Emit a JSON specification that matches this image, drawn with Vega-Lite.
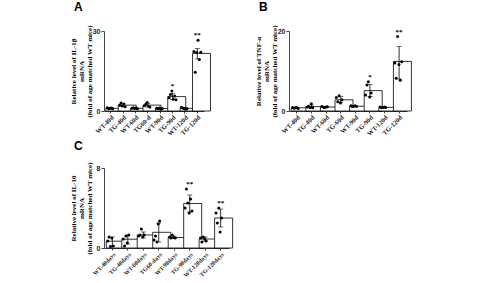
{
  "$schema": "https://vega.github.io/schema/vega-lite/v6.json",
  "background": "white",
  "padding": {"left": 68, "top": 0, "right": 5, "bottom": 0},
  "datasets": {
    "A_bars": [
      {"group": "WT-40d", "mean": 1.0, "lo": 0.85, "hi": 1.15, "star": ""},
      {"group": "TG-40d", "mean": 2.2, "lo": 1.6, "hi": 2.8, "star": ""},
      {"group": "WT-60d", "mean": 1.0, "lo": 0.85, "hi": 1.15, "star": ""},
      {"group": "TG60-d", "mean": 2.2, "lo": 1.5, "hi": 2.9, "star": ""},
      {"group": "WT-90d", "mean": 0.9, "lo": 0.75, "hi": 1.05, "star": ""},
      {"group": "TG-90d", "mean": 5.4, "lo": 4.3, "hi": 6.6, "star": "*"},
      {"group": "WT-120d", "mean": 1.0, "lo": 0.75, "hi": 1.25, "star": ""},
      {"group": "TG-120d", "mean": 21.6, "lo": 19.5, "hi": 23.4, "star": "**"}
    ],
    "A_pts": [
      {"group": "WT-40d", "rep": 1, "value": 1.2}, {"group": "WT-40d", "rep": 2, "value": 0.9}, {"group": "WT-40d", "rep": 3, "value": 1.0}, {"group": "WT-40d", "rep": 4, "value": 1.1}, {"group": "WT-40d", "rep": 5, "value": 0.8},
      {"group": "TG-40d", "rep": 1, "value": 2.2}, {"group": "TG-40d", "rep": 2, "value": 3.0}, {"group": "TG-40d", "rep": 3, "value": 1.9}, {"group": "TG-40d", "rep": 4, "value": 2.6}, {"group": "TG-40d", "rep": 5, "value": 1.6},
      {"group": "WT-60d", "rep": 1, "value": 1.0}, {"group": "WT-60d", "rep": 2, "value": 1.2}, {"group": "WT-60d", "rep": 3, "value": 0.9}, {"group": "WT-60d", "rep": 4, "value": 1.1}, {"group": "WT-60d", "rep": 5, "value": 0.8},
      {"group": "TG60-d", "rep": 1, "value": 2.0}, {"group": "TG60-d", "rep": 2, "value": 2.5}, {"group": "TG60-d", "rep": 3, "value": 3.2}, {"group": "TG60-d", "rep": 4, "value": 1.8}, {"group": "TG60-d", "rep": 5, "value": 1.5},
      {"group": "WT-90d", "rep": 1, "value": 1.0}, {"group": "WT-90d", "rep": 2, "value": 0.8}, {"group": "WT-90d", "rep": 3, "value": 1.1}, {"group": "WT-90d", "rep": 4, "value": 0.7}, {"group": "WT-90d", "rep": 5, "value": 0.9},
      {"group": "TG-90d", "rep": 1, "value": 5.0}, {"group": "TG-90d", "rep": 2, "value": 6.2}, {"group": "TG-90d", "rep": 3, "value": 7.5}, {"group": "TG-90d", "rep": 4, "value": 4.4}, {"group": "TG-90d", "rep": 5, "value": 5.6}, {"group": "TG-90d", "rep": 6, "value": 4.2},
      {"group": "WT-120d", "rep": 1, "value": 1.4}, {"group": "WT-120d", "rep": 2, "value": 1.1}, {"group": "WT-120d", "rep": 3, "value": 0.9}, {"group": "WT-120d", "rep": 4, "value": 0.7}, {"group": "WT-120d", "rep": 5, "value": 0.8},
      {"group": "TG-120d", "rep": 1, "value": 22.3}, {"group": "TG-120d", "rep": 2, "value": 14.5}, {"group": "TG-120d", "rep": 3, "value": 21.9}, {"group": "TG-120d", "rep": 4, "value": 26.5}, {"group": "TG-120d", "rep": 5, "value": 19.3}, {"group": "TG-120d", "rep": 6, "value": 22.0}
    ],
    "B_bars": [
      {"group": "WT-40d", "mean": 0.8, "lo": 0.65, "hi": 0.95, "star": ""},
      {"group": "TG-40d", "mean": 1.1, "lo": 0.7, "hi": 1.5, "star": ""},
      {"group": "WT-60d", "mean": 1.0, "lo": 0.9, "hi": 1.1, "star": ""},
      {"group": "TG-60d", "mean": 2.8, "lo": 2.2, "hi": 3.6, "star": ""},
      {"group": "WT-90d", "mean": 1.2, "lo": 1.1, "hi": 1.3, "star": ""},
      {"group": "TG-90d", "mean": 5.1, "lo": 3.6, "hi": 6.6, "star": "*"},
      {"group": "WT-120d", "mean": 0.9, "lo": 0.8, "hi": 1.0, "star": ""},
      {"group": "TG-120d", "mean": 12.4, "lo": 8.0, "hi": 16.1, "star": "**"}
    ],
    "B_pts": [
      {"group": "WT-40d", "rep": 1, "value": 0.9}, {"group": "WT-40d", "rep": 2, "value": 0.7}, {"group": "WT-40d", "rep": 3, "value": 0.8}, {"group": "WT-40d", "rep": 4, "value": 0.9}, {"group": "WT-40d", "rep": 5, "value": 0.6},
      {"group": "TG-40d", "rep": 1, "value": 1.0}, {"group": "TG-40d", "rep": 2, "value": 1.2}, {"group": "TG-40d", "rep": 3, "value": 0.9}, {"group": "TG-40d", "rep": 4, "value": 1.8}, {"group": "TG-40d", "rep": 5, "value": 0.8},
      {"group": "WT-60d", "rep": 1, "value": 1.1}, {"group": "WT-60d", "rep": 2, "value": 1.0}, {"group": "WT-60d", "rep": 3, "value": 0.9}, {"group": "WT-60d", "rep": 4, "value": 1.0}, {"group": "WT-60d", "rep": 5, "value": 1.05},
      {"group": "TG-60d", "rep": 1, "value": 3.4}, {"group": "TG-60d", "rep": 2, "value": 2.3}, {"group": "TG-60d", "rep": 3, "value": 3.8}, {"group": "TG-60d", "rep": 4, "value": 2.0}, {"group": "TG-60d", "rep": 5, "value": 2.8},
      {"group": "WT-90d", "rep": 1, "value": 1.3}, {"group": "WT-90d", "rep": 2, "value": 1.1}, {"group": "WT-90d", "rep": 3, "value": 1.2}, {"group": "WT-90d", "rep": 4, "value": 1.3}, {"group": "WT-90d", "rep": 5, "value": 1.15},
      {"group": "TG-90d", "rep": 1, "value": 4.0}, {"group": "TG-90d", "rep": 2, "value": 6.5}, {"group": "TG-90d", "rep": 3, "value": 7.3}, {"group": "TG-90d", "rep": 4, "value": 3.5}, {"group": "TG-90d", "rep": 5, "value": 4.5},
      {"group": "WT-120d", "rep": 1, "value": 1.0}, {"group": "WT-120d", "rep": 2, "value": 0.8}, {"group": "WT-120d", "rep": 3, "value": 0.9}, {"group": "WT-120d", "rep": 4, "value": 1.0}, {"group": "WT-120d", "rep": 5, "value": 0.85},
      {"group": "TG-120d", "rep": 1, "value": 12.0}, {"group": "TG-120d", "rep": 2, "value": 8.2}, {"group": "TG-120d", "rep": 3, "value": 18.6}, {"group": "TG-120d", "rep": 4, "value": 11.6}, {"group": "TG-120d", "rep": 5, "value": 7.7}, {"group": "TG-120d", "rep": 6, "value": 12.3}
    ],
    "C_bars": [
      {"group": "WT-40days", "mean": 0.68, "lo": 0.2, "hi": 1.1, "star": ""},
      {"group": "TG-40days", "mean": 0.88, "lo": 0.4, "hi": 1.3, "star": ""},
      {"group": "WT-60days", "mean": 1.3, "lo": 1.0, "hi": 1.6, "star": ""},
      {"group": "TG60-days", "mean": 1.57, "lo": 0.6, "hi": 2.5, "star": ""},
      {"group": "WT-90days", "mean": 1.05, "lo": 0.95, "hi": 1.2, "star": ""},
      {"group": "TG-90days", "mean": 4.45, "lo": 3.6, "hi": 5.3, "star": "**"},
      {"group": "WT-120days", "mean": 0.9, "lo": 0.7, "hi": 1.1, "star": ""},
      {"group": "TG-120days", "mean": 3.0, "lo": 2.1, "hi": 3.9, "star": "**"}
    ],
    "C_pts": [
      {"group": "WT-40days", "rep": 1, "value": 0.7}, {"group": "WT-40days", "rep": 2, "value": 1.1}, {"group": "WT-40days", "rep": 3, "value": 0.15}, {"group": "WT-40days", "rep": 4, "value": 1.0}, {"group": "WT-40days", "rep": 5, "value": 0.2},
      {"group": "TG-40days", "rep": 1, "value": 0.9}, {"group": "TG-40days", "rep": 2, "value": 0.2}, {"group": "TG-40days", "rep": 3, "value": 1.2}, {"group": "TG-40days", "rep": 4, "value": 0.5}, {"group": "TG-40days", "rep": 5, "value": 1.3},
      {"group": "WT-60days", "rep": 1, "value": 1.2}, {"group": "WT-60days", "rep": 2, "value": 1.3}, {"group": "WT-60days", "rep": 3, "value": 1.9}, {"group": "WT-60days", "rep": 4, "value": 1.1}, {"group": "WT-60days", "rep": 5, "value": 1.3},
      {"group": "TG60-days", "rep": 1, "value": 0.8}, {"group": "TG60-days", "rep": 2, "value": 1.2}, {"group": "TG60-days", "rep": 3, "value": 0.6}, {"group": "TG60-days", "rep": 4, "value": 2.4}, {"group": "TG60-days", "rep": 5, "value": 2.7},
      {"group": "WT-90days", "rep": 1, "value": 1.1}, {"group": "WT-90days", "rep": 2, "value": 1.0}, {"group": "WT-90days", "rep": 3, "value": 1.3}, {"group": "WT-90days", "rep": 4, "value": 1.05}, {"group": "WT-90days", "rep": 5, "value": 1.0},
      {"group": "TG-90days", "rep": 1, "value": 4.0}, {"group": "TG-90days", "rep": 2, "value": 5.9}, {"group": "TG-90days", "rep": 3, "value": 4.5}, {"group": "TG-90days", "rep": 4, "value": 3.5}, {"group": "TG-90days", "rep": 5, "value": 4.9}, {"group": "TG-90days", "rep": 6, "value": 3.7},
      {"group": "WT-120days", "rep": 1, "value": 1.0}, {"group": "WT-120days", "rep": 2, "value": 0.6}, {"group": "WT-120days", "rep": 3, "value": 1.1}, {"group": "WT-120days", "rep": 4, "value": 0.9}, {"group": "WT-120days", "rep": 5, "value": 0.7},
      {"group": "TG-120days", "rep": 1, "value": 3.5}, {"group": "TG-120days", "rep": 2, "value": 2.5}, {"group": "TG-120days", "rep": 3, "value": 4.0}, {"group": "TG-120days", "rep": 4, "value": 1.6}, {"group": "TG-120days", "rep": 5, "value": 3.0}
    ]
  },
  "config": {
    "view": {"stroke": null},
    "axis": {
      "domainColor": "#444", "tickColor": "#444", "grid": false,
      "labelFont": "Liberation Sans", "labelFontWeight": "bold", "labelFontSize": 7, "labelColor": "#222",
      "titleFont": "Liberation Serif", "titleFontWeight": "bold", "titleFontSize": 7, "titleColor": "black", "titleLineHeight": 8,
      "tickSize": 3, "labelPadding": 1, "zindex": 2
    },
    "axisY": {"labelOverlap": false, "labelBound": false, "labelFlush": false, "titleX": -28, "titleY": 40, "titleAngle": -90, "titleAlign": "center", "titleBaseline": "bottom"},
    "axisX": {"labelAngle": -45, "title": null, "ticks": true, "tickSize": 2, "labelFontSize": 6.5, "labelFont": "Liberation Serif"},
    "title": {"font": "Liberation Sans", "fontSize": 12, "fontWeight": "bold", "color": "black", "anchor": "start", "frame": "bounds", "offset": 11}
  },
  "spacing": 2,
  "vconcat": [
    {
      "spacing": 42,
      "hconcat": [
        {
          "title": {"text": "A", "dx": 5},
          "width": 100, "height": 80,
          "resolve": {"scale": {"x": "independent"}},
          "layer": [
            {
              "data": {"name": "A_bars"},
              "encoding": {"x": {"field": "group", "type": "nominal", "sort": null, "scale": {"paddingInner": 0.22, "paddingOuter": 0.15}}},
              "layer": [
                {"mark": {"type": "bar", "fill": "white", "stroke": "black", "strokeWidth": 0.8},
                 "encoding": {"y": {"field": "mean", "type": "quantitative", "scale": {"domain": [0, 30], "nice": false}, "axis": {"values": [0, 10, 20, 30], "labelOverlap": false, "title": ["Relative level of IL-1β", "mRNA", "(fold of age matched WT mice)"]}}}},
                {"mark": {"type": "rule", "color": "black", "strokeWidth": 0.8},
                 "encoding": {"y": {"field": "lo", "type": "quantitative"}, "y2": {"field": "hi"}}},
                {"mark": {"type": "tick", "color": "black", "size": 5, "thickness": 0.8},
                 "encoding": {"y": {"field": "hi", "type": "quantitative"}}},
                {"mark": {"type": "tick", "color": "black", "size": 5, "thickness": 0.8},
                 "encoding": {"y": {"field": "lo", "type": "quantitative"}}}
              ]
            },
            {
              "data": {"name": "A_pts"},
              "encoding": {"x": {"field": "group", "type": "nominal", "sort": null, "scale": {"paddingInner": 0.22, "paddingOuter": 0.15}, "axis": null}},
              "layer": [
                {"mark": {"type": "point", "filled": true, "color": "black", "size": 9, "opacity": 1},
                 "encoding": {"xOffset": {"field": "rep", "type": "ordinal", "scale": {"paddingOuter": 1.5}}, "y": {"field": "value", "type": "quantitative"}}},
                {"transform": [{"aggregate": [{"op": "max", "field": "value", "as": "top"}], "groupby": ["group"]}, {"lookup": "group", "from": {"data": {"name": "A_bars"}, "key": "group", "fields": ["star"]}}, {"filter": "datum.star != ''"}],
                 "mark": {"type": "text", "baseline": "bottom", "dy": -2, "fontSize": 7, "font": "Liberation Serif", "fontWeight": "bold", "color": "black"},
                 "encoding": {"y": {"field": "top", "type": "quantitative"}, "text": {"field": "star"}}}
              ]
            }
          ]
        },
        {
          "title": {"text": "B", "dx": 5},
          "width": 118, "height": 80,
          "resolve": {"scale": {"x": "independent"}},
          "layer": [
            {
              "data": {"name": "B_bars"},
              "encoding": {"x": {"field": "group", "type": "nominal", "sort": null, "scale": {"paddingInner": 0.22, "paddingOuter": 0.15}}},
              "layer": [
                {"mark": {"type": "bar", "fill": "white", "stroke": "black", "strokeWidth": 0.8},
                 "encoding": {"y": {"field": "mean", "type": "quantitative", "scale": {"domain": [0, 20], "nice": false}, "axis": {"values": [0, 5, 10, 15, 20], "labelOverlap": false, "title": ["Relative level of TNF-α", "mRNA", "(fold of age matched WT mice)"]}}}},
                {"mark": {"type": "rule", "color": "black", "strokeWidth": 0.8},
                 "encoding": {"y": {"field": "lo", "type": "quantitative"}, "y2": {"field": "hi"}}},
                {"mark": {"type": "tick", "color": "black", "size": 5, "thickness": 0.8},
                 "encoding": {"y": {"field": "hi", "type": "quantitative"}}},
                {"mark": {"type": "tick", "color": "black", "size": 5, "thickness": 0.8},
                 "encoding": {"y": {"field": "lo", "type": "quantitative"}}}
              ]
            },
            {
              "data": {"name": "B_pts"},
              "encoding": {"x": {"field": "group", "type": "nominal", "sort": null, "scale": {"paddingInner": 0.22, "paddingOuter": 0.15}, "axis": null}},
              "layer": [
                {"mark": {"type": "point", "filled": true, "color": "black", "size": 9, "opacity": 1},
                 "encoding": {"xOffset": {"field": "rep", "type": "ordinal", "scale": {"paddingOuter": 1.5}}, "y": {"field": "value", "type": "quantitative"}}},
                {"transform": [{"aggregate": [{"op": "max", "field": "value", "as": "top"}], "groupby": ["group"]}, {"lookup": "group", "from": {"data": {"name": "B_bars"}, "key": "group", "fields": ["star"]}}, {"filter": "datum.star != ''"}],
                 "mark": {"type": "text", "baseline": "bottom", "dy": -2, "fontSize": 7, "font": "Liberation Serif", "fontWeight": "bold", "color": "black"},
                 "encoding": {"y": {"field": "top", "type": "quantitative"}, "text": {"field": "star"}}}
              ]
            }
          ]
        }
      ]
    },
    {
      "title": {"text": "C", "dx": 5, "offset": 9},
      "width": 125, "height": 80,
      "resolve": {"scale": {"x": "independent"}},
      "layer": [
        {
          "data": {"name": "C_bars"},
          "encoding": {"x": {"field": "group", "type": "nominal", "sort": null, "scale": {"paddingInner": 0.22, "paddingOuter": 0.15}, "axis": {"labelFontSize": 6}}},
          "layer": [
            {"mark": {"type": "bar", "fill": "white", "stroke": "black", "strokeWidth": 0.8},
             "encoding": {"y": {"field": "mean", "type": "quantitative", "scale": {"domain": [0, 8], "nice": false}, "axis": {"values": [0, 2, 4, 6, 8], "labelOverlap": false, "title": ["Relative level of IL-10", "mRNA", "(fold of age matched WT mice)"]}}}},
            {"mark": {"type": "rule", "color": "black", "strokeWidth": 0.8},
             "encoding": {"y": {"field": "lo", "type": "quantitative"}, "y2": {"field": "hi"}}},
            {"mark": {"type": "tick", "color": "black", "size": 5, "thickness": 0.8},
             "encoding": {"y": {"field": "hi", "type": "quantitative"}}},
            {"mark": {"type": "tick", "color": "black", "size": 5, "thickness": 0.8},
             "encoding": {"y": {"field": "lo", "type": "quantitative"}}}
          ]
        },
        {
          "data": {"name": "C_pts"},
          "encoding": {"x": {"field": "group", "type": "nominal", "sort": null, "scale": {"paddingInner": 0.22, "paddingOuter": 0.15}, "axis": null}},
          "layer": [
            {"mark": {"type": "point", "filled": true, "color": "black", "size": 9, "opacity": 1},
             "encoding": {"xOffset": {"field": "rep", "type": "ordinal", "scale": {"paddingOuter": 1.5}}, "y": {"field": "value", "type": "quantitative"}}},
            {"transform": [{"aggregate": [{"op": "max", "field": "value", "as": "top"}], "groupby": ["group"]}, {"lookup": "group", "from": {"data": {"name": "C_bars"}, "key": "group", "fields": ["star"]}}, {"filter": "datum.star != ''"}],
             "mark": {"type": "text", "baseline": "bottom", "dy": -2, "fontSize": 7, "font": "Liberation Serif", "fontWeight": "bold", "color": "black"},
             "encoding": {"y": {"field": "top", "type": "quantitative"}, "text": {"field": "star"}}}
          ]
        }
      ]
    }
  ]
}
